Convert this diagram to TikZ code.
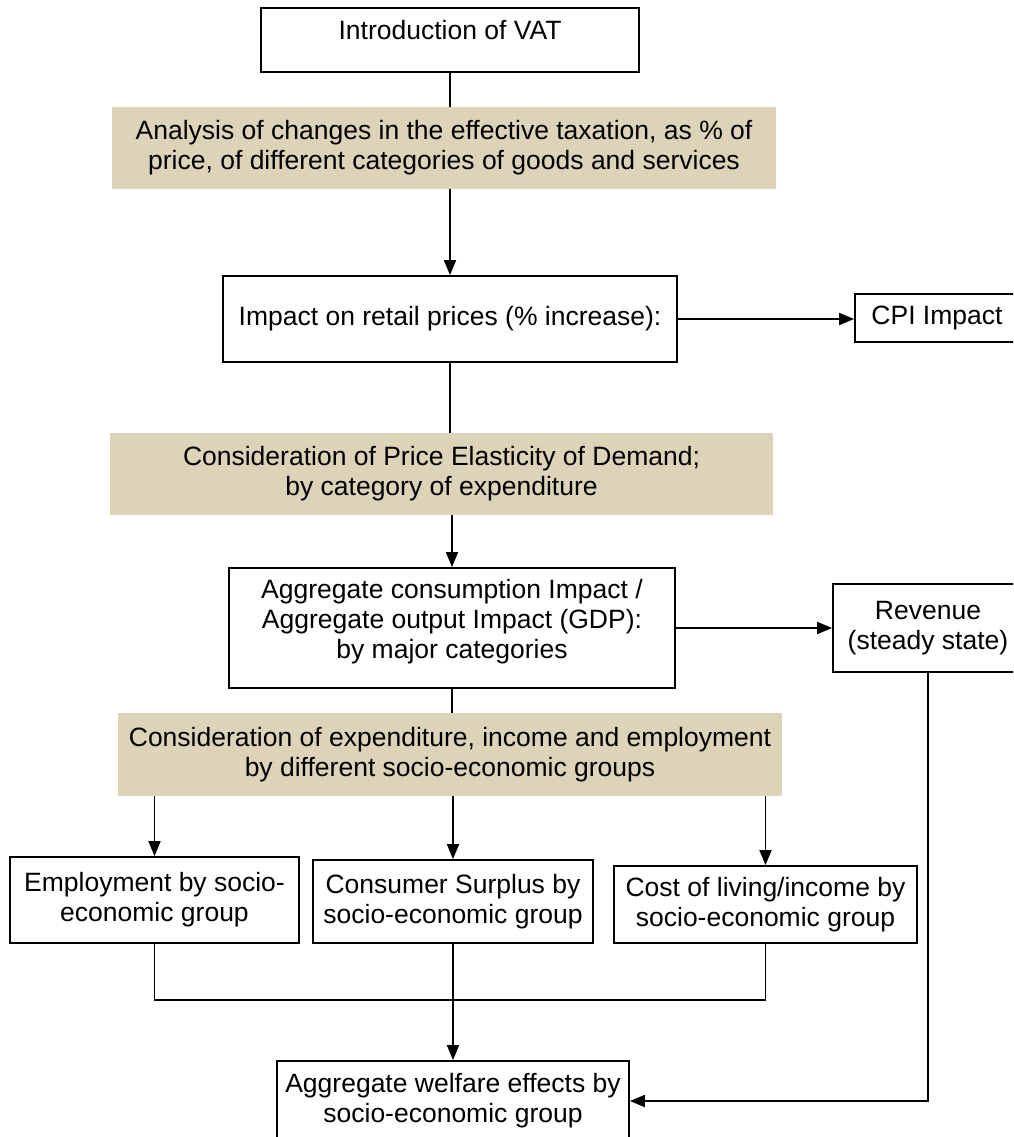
\documentclass[tikz,border=0pt]{standalone}
\usepackage{fontspec}
\setmainfont{Liberation Sans}
\usetikzlibrary{arrows.meta}
\definecolor{tanfill}{RGB}{221,211,184}
\tikzset{
  base/.style={font=\fontsize{26.5}{30}\selectfont, align=center, inner sep=0pt, anchor=center},
  box/.style={base, draw=black, line width=1.8pt, fill=white},
  tanbox/.style={base, fill=tanfill, draw=none},
  conn/.style={line width=1.8pt, draw=black},
  arr/.style={conn, -{Triangle[length=15pt,width=12pt]}}
}
\begin{document}
\begin{tikzpicture}[x=1pt,y=-1pt]
\clip (0,0) rectangle (1013,1137);
\fill[white] (0,0) rectangle (1013,1137);

\node[box, minimum width=378, minimum height=64] (intro) at (450,40) {\raisebox{10pt}[\height][\depth]{Introduction of VAT}};
\node[tanbox, minimum width=664, minimum height=82] (analysis) at (444,148) {Analysis of changes in the effective taxation, as \% of\\price, of different categories of goods and services};
\node[box, minimum width=454, minimum height=86] (impact) at (450,319) {Impact on retail prices (\% increase):};
\node[box, minimum width=164, minimum height=48] (cpi) at (937,318) {CPI Impact};
\node[tanbox, minimum width=663, minimum height=82] (ped) at (441.5,474) {Consideration of Price Elasticity of Demand;\\by category of expenditure};
\node[box, minimum width=446, minimum height=120] (agg) at (452,628) {\raisebox{6pt}[\height][\depth]{\begin{tabular}{@{}c@{}}Aggregate consumption Impact /\\Aggregate output Impact (GDP):\\by major categories\end{tabular}}};
\node[box, minimum width=190, minimum height=88] (rev) at (928,628) {Revenue\\(steady state)};
\node[tanbox, minimum width=664, minimum height=83] (socio) at (450,754.5) {Consideration of expenditure, income and employment\\by different socio-economic groups};
\node[box, minimum width=289, minimum height=86] (emp) at (154.5,900) {Employment by socio-\\economic group};
\node[box, minimum width=280, minimum height=83] (cons) at (453,901.5) {Consumer Surplus by\\socio-economic group};
\node[box, minimum width=303, minimum height=77] (cost) at (765.5,904.5) {Cost of living/income by\\socio-economic group};
\node[box, minimum width=352, minimum height=80] (welfare) at (453,1101) {Aggregate welfare effects by\\socio-economic group};

\coordinate (join) at (453,1000);

\draw[conn] (intro.south) -- (intro.south |- analysis.north);
\draw[arr] (impact.north |- analysis.south) -- (impact.north);
\draw[arr] (impact.east) -- (cpi.west |- impact.east);
\draw[conn] (impact.south) -- (impact.south |- ped.north);
\draw[arr] (agg.north |- ped.south) -- (agg.north);
\draw[arr] (agg.east) -- (rev.west);
\draw[conn] (agg.south) -- (agg.south |- socio.north);
\draw[arr] (emp.north |- socio.south) -- (emp.north);
\draw[arr] (cons.north |- socio.south) -- (cons.north);
\draw[arr] (cost.north |- socio.south) -- (cost.north);
\draw[conn] (emp.south) -- (emp.south |- join) -- (cost.south |- join) -- (cost.south);
\draw[arr] (cons.south) -- (welfare.north);
\draw[arr] (rev.south) |- (welfare.east);
\end{tikzpicture}
\end{document}
